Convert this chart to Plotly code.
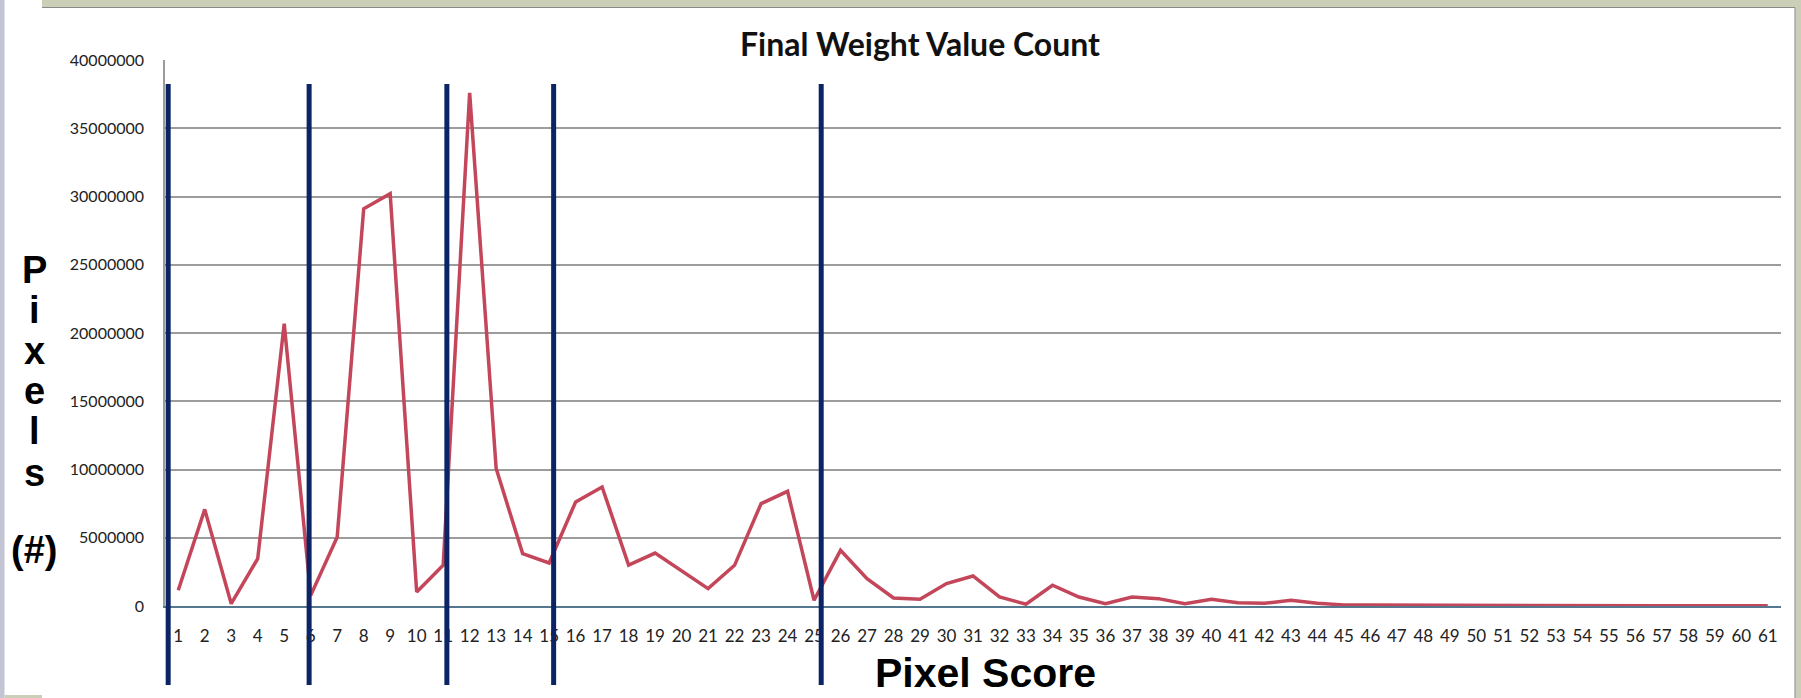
import plotly.graph_objects as go

# ---------------- data ----------------
pixel_scores = list(range(1, 62))
tick_labels_x = [str(v) for v in pixel_scores]
pixel_counts = [
    1.15e6, 7.08e6, 0.17e6, 3.47e6, 20.69e6, 0.78e6, 5.06e6, 29.1e6, 30.2e6, 1.03e6,
    2.98e6, 37.6e6, 10.07e6, 3.84e6, 3.15e6, 7.62e6, 8.72e6, 3.0e6, 3.88e6, 2.6e6,
    1.27e6, 2.98e6, 7.5e6, 8.4e6, 0.42e6, 4.08e6, 2.0e6, 0.59e6, 0.49e6, 1.64e6,
    2.2e6, 0.66e6, 0.13e6, 1.52e6, 0.66e6, 0.17e6, 0.66e6, 0.54e6, 0.17e6, 0.49e6,
    0.24e6, 0.2e6, 0.42e6, 0.2e6, 0.08e6, 0.07e6, 0.06e6, 0.06e6, 0.05e6, 0.05e6,
    0.05e6, 0.07e6, 0.03e6, 0.02e6, 0.02e6, 0.02e6, 0.02e6, 0.02e6, 0.02e6, 0.02e6,
    0.01e6,
]
y_tick_values = [0, 5e6, 10e6, 15e6, 20e6, 25e6, 30e6, 35e6, 40e6]
y_tick_labels = ["0", "5000000", "10000000", "15000000", "20000000",
                 "25000000", "30000000", "35000000", "40000000"]
divider_scores = [0.62, 5.94, 11.14, 15.17, 25.27]
side_letters = ["P", "i", "x", "e", "l", "s", "(#)"]

# ---------------- layout geometry (pixels) ----------------
W, H = 1801, 698
L, R, T, B = 165, 20, 60, 92
PW, PH = W - L - R, H - T - B


def px(x):
    return (x - L) / PW


def py(y):
    return (H - B - y) / PH


fig = go.Figure()
fig.add_trace(go.Scatter(
    x=pixel_scores, y=pixel_counts, mode="lines",
    line=dict(color="#c4465a", width=3.5),
    showlegend=False, hoverinfo="x+y",
))

shapes = []
# divider lines
for d in divider_scores:
    shapes.append(dict(type="line", xref="x", yref="paper", x0=d, x1=d,
                       y0=py(685), y1=py(84), line=dict(color="#0c2466", width=5),
                       layer="above"))

# slide frame
frame_green = "#cbcfb8"
shapes += [
    dict(type="rect", xref="paper", yref="paper", x0=px(0), x1=px(4.5), y0=py(H), y1=py(0),
         fillcolor="#c3c5d4", line=dict(width=0), layer="below"),
    dict(type="rect", xref="paper", yref="paper", x0=px(42), x1=px(W), y0=py(7), y1=py(0),
         fillcolor=frame_green, line=dict(width=0), layer="below"),
    dict(type="line", xref="paper", yref="paper", x0=px(42), x1=px(1795), y0=py(7.5), y1=py(7.5),
         line=dict(color="#8a8a8a", width=1.2), layer="below"),
    dict(type="rect", xref="paper", yref="paper", x0=px(1795), x1=px(W), y0=py(H), y1=py(0),
         fillcolor=frame_green, line=dict(width=0), layer="below"),
    dict(type="line", xref="paper", yref="paper", x0=px(1795), x1=px(1795), y0=py(H), y1=py(7.5),
         line=dict(color="#9a9a9a", width=1.2), layer="below"),
    dict(type="rect", xref="paper", yref="paper", x0=px(4.5), x1=px(42), y0=py(H), y1=py(695),
         fillcolor=frame_green, line=dict(width=0), layer="below"),
]

annotations = []
# vertical stacked y title
letter_baselines = [282, 322, 363, 403, 443, 485, 562]
for ch, base in zip(side_letters, letter_baselines):
    annotations.append(dict(text="<b>" + ch + "</b>", xref="paper", yref="paper",
                            x=px(34), y=py(base - 12),
                            xanchor="center", yanchor="middle", showarrow=False,
                            font=dict(family="Liberation Sans", size=38, color="#000000")))
# x title
annotations.append(dict(text="<b>Pixel Score</b>", xref="paper", yref="paper",
                        x=px(985), y=py(673), xanchor="center", yanchor="middle",
                        showarrow=False,
                        font=dict(family="Liberation Sans", size=41, color="#000000")))
# chart title
annotations.append(dict(text="<b>Final Weight Value Count</b>", xref="paper", yref="paper",
                        x=px(920), y=py(43), xanchor="center", yanchor="middle",
                        showarrow=False,
                        font=dict(family="Lato", size=32, color="#111111")))

fig.update_layout(
    width=W, height=H,
    margin=dict(l=L, r=R, t=T, b=B, pad=0),
    paper_bgcolor="#ffffff", plot_bgcolor="#ffffff",
    shapes=shapes, annotations=annotations,
    showlegend=False,
    xaxis=dict(
        range=[0.5, 61.5], tickmode="array", tickvals=pixel_scores, ticktext=tick_labels_x,
        showgrid=False, zeroline=False, showline=True, linecolor="#56788f", linewidth=2,
        ticks="outside", ticklen=14, tickcolor="rgba(0,0,0,0)",
        tickfont=dict(family="Lato", size=17, color="#222222"),
    ),
    yaxis=dict(
        range=[0, 40e6], tickmode="array", tickvals=y_tick_values, ticktext=y_tick_labels,
        showgrid=True, gridcolor="#9c9c9c", gridwidth=1.6, zeroline=False,
        showline=True, linecolor="#9c9c9c", linewidth=1.5,
        ticks="outside", ticklen=16, tickcolor="rgba(0,0,0,0)",
        tickfont=dict(family="Lato", size=16, color="#222222"),
    ),
)

fig.write_html(
    "out.html",
    config={"displayModeBar": False},
    post_script="document.body.style.margin='0';document.body.style.overflow='hidden';",
)
